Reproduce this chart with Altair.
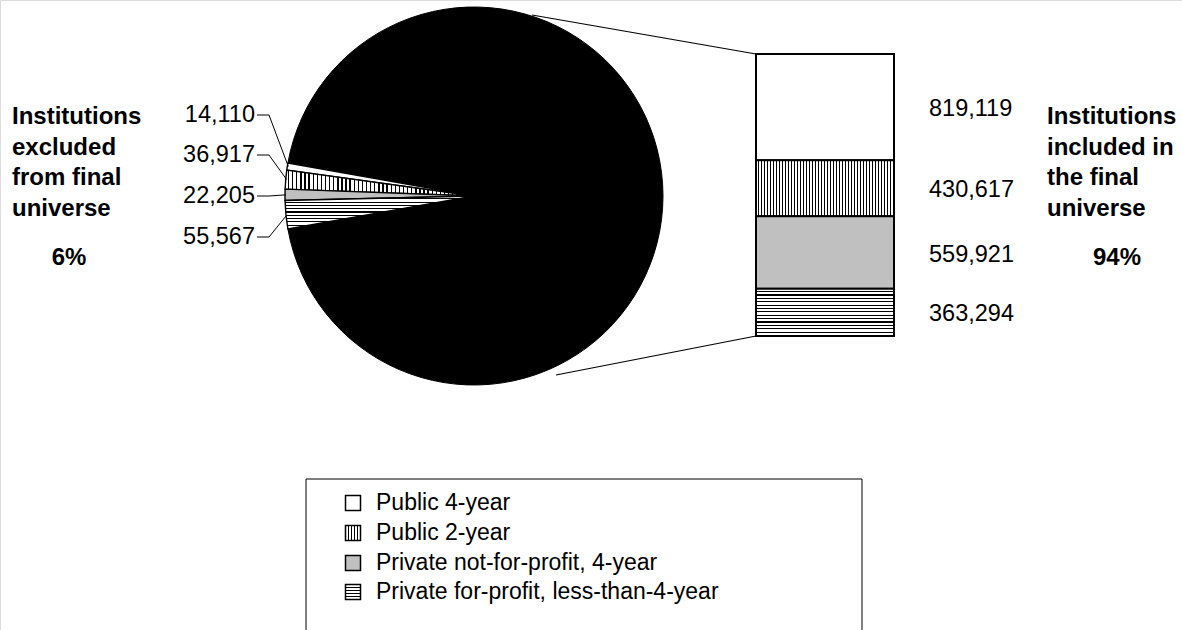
import math
import altair as alt
import pandas as pd

# ---------------- data ----------------
categories = [
    "Public 4-year",
    "Public 2-year",
    "Private not-for-profit, 4-year",
    "Private for-profit, less-than-4-year",
]
excluded_values = [14110, 36917, 22205, 55567]
included_values = [819119, 430617, 559921, 363294]
excluded_title = ["Institutions", "excluded", "from final", "universe"]
included_title = ["Institutions", "included in", "the final", "universe"]
excluded_share = "6%"
included_share = "94%"

# ---------------- layout / style ----------------
W, H = 1182, 630
FONT = "Liberation Sans"
FS_LABEL = 23.5
FS_TITLE = 24
FS_LEGEND = 23
PIE_CX, PIE_CY, PIE_R = 474, 196, 189
BAR_X0, BAR_X1, BAR_TOP, BAR_BOTTOM = 756, 894, 54, 336
PIE_LABEL_X = 255
PIE_LABEL_Y = [115, 155, 196, 237]
ELBOW_X = 269
BAR_LABEL_X = 929
TITLE_Y0, TITLE_DY = 117, 30.5
LEG_X0, LEG_X1, LEG_Y0 = 306, 862, 479
LEG_ROWS = [503, 533, 563, 592]
LEG_SWATCH_X = 353
LEG_TEXT_X = 376

XP = alt.Scale(domain=[0, W], range=[0, W], nice=False, zero=False)
YP = alt.Scale(domain=[0, H], range=[0, H], nice=False, zero=False)


def stripes(n, vertical, frac=0.33):
    stops = []
    for i in range(n):
        a, b, c = i / n, (i + 1 - frac) / n, (i + 1) / n
        stops += [
            {"offset": a, "color": "white"},
            {"offset": b, "color": "white"},
            {"offset": b, "color": "black"},
            {"offset": c, "color": "black"},
        ]
    return alt.LinearGradient(
        gradient="linear", stops=stops,
        x1=0, y1=0, x2=(1 if vertical else 0), y2=(0 if vertical else 1),
    )


def fills(context):
    n_v = {"pie": 46, "bar": 46, "legend": 5}[context]
    n_h = {"pie": 10, "bar": 14, "legend": 5}[context]
    return ["white", stripes(n_v, True), "#c0c0c0", stripes(n_h, False)]


# ---------------- pie ----------------
excl_total = sum(excluded_values)
incl_total = sum(included_values)
total = excl_total + incl_total
a0 = 1.5 * math.pi - math.pi * excl_total / total

pie_order = [3, 2, 1, 0]
rows, acc = [], 0
for i in pie_order:
    rows.append({"cat": categories[i], "start": acc, "end": acc + excluded_values[i]})
    acc += excluded_values[i]
rows.append({"cat": "included", "start": acc, "end": acc + incl_total})
pie_df = pd.DataFrame(rows)
theta_scale = alt.Scale(domain=[0, total], range=[a0, a0 + 2 * math.pi])

layers = []
pie_base = alt.Chart(pie_df)
layers.append(
    pie_base.transform_filter(alt.datum.cat == "included")
    .mark_arc(x=PIE_CX, y=PIE_CY, outerRadius=PIE_R, fill="black", stroke="black")
    .encode(theta=alt.Theta("start:Q", scale=theta_scale), theta2="end:Q")
)
pf = fills("pie")
for i, c in enumerate(categories):
    layers.append(
        pie_base.transform_filter(alt.datum.cat == c)
        .mark_arc(x=PIE_CX, y=PIE_CY, outerRadius=PIE_R, fill=pf[i],
                  stroke="black", strokeWidth=1.4)
        .encode(theta=alt.Theta("start:Q", scale=theta_scale), theta2="end:Q")
    )

# leader lines & pie labels
lead_rows, lab_rows = [], []
for i, c in enumerate(categories):
    r = pie_df[pie_df.cat == c].iloc[0]
    mid = a0 + 2 * math.pi * ((r.start + r.end) / 2) / total
    ex = PIE_CX + PIE_R * math.sin(mid)
    ey = PIE_CY - PIE_R * math.cos(mid)
    ly = PIE_LABEL_Y[i]
    lead_rows += [
        {"cat": c, "o": 0, "x": PIE_LABEL_X + 2, "y": ly},
        {"cat": c, "o": 1, "x": ELBOW_X, "y": ly},
        {"cat": c, "o": 2, "x": ex + 1, "y": ey},
    ]
    lab_rows.append({"txt": f"{excluded_values[i]:,}", "y": ly})

layers.append(
    alt.Chart(pd.DataFrame(lead_rows)).mark_line(color="black", strokeWidth=1)
    .encode(x=alt.X("x:Q", scale=XP, axis=None), y=alt.Y("y:Q", scale=YP, axis=None),
            detail="cat:N", order="o:Q")
)
layers.append(
    alt.Chart(pd.DataFrame(lab_rows)).mark_text(align="right", baseline="middle",
                                              font=FONT, fontSize=FS_LABEL, color="black")
    .encode(x=alt.value(PIE_LABEL_X), y=alt.Y("y:Q", scale=YP, axis=None), text="txt:N")
)

# connector lines pie -> bar
layers.append(
    alt.Chart(pd.DataFrame({"k": [0]})).mark_rule(color="black", strokeWidth=1.2)
    .encode(x=alt.value(532), y=alt.value(15), x2=alt.value(BAR_X0), y2=alt.value(BAR_TOP))
)
layers.append(
    alt.Chart(pd.DataFrame({"k": [0]})).mark_rule(color="black", strokeWidth=1.2)
    .encode(x=alt.value(556), y=alt.value(375), x2=alt.value(BAR_X0), y2=alt.value(BAR_BOTTOM))
)

# ---------------- bar ----------------
bar_rows, acc = [], 0
for i, c in enumerate(categories):
    bar_rows.append({"cat": c, "start": acc, "end": acc + included_values[i],
                     "mid": acc + included_values[i] / 2, "txt": f"{included_values[i]:,}"})
    acc += included_values[i]
bar_df = pd.DataFrame(bar_rows)
bar_y = alt.Scale(domain=[0, incl_total], range=[BAR_TOP, BAR_BOTTOM], nice=False, zero=False)
bf = fills("bar")
for i, c in enumerate(categories):
    layers.append(
        alt.Chart(bar_df).transform_filter(alt.datum.cat == c)
        .mark_rect(fill=bf[i], stroke="black", strokeWidth=2)
        .encode(x=alt.value(BAR_X0), x2=alt.value(BAR_X1),
                y=alt.Y("start:Q", scale=bar_y, axis=None), y2="end:Q")
    )
layers.append(
    alt.Chart(bar_df).mark_text(align="left", baseline="middle", font=FONT,
                                fontSize=FS_LABEL, color="black", dy=2)
    .encode(x=alt.value(BAR_LABEL_X), y=alt.Y("mid:Q", scale=bar_y, axis=None), text="txt:N")
)

# ---------------- side titles ----------------
title_rows = []
for k, t in enumerate(excluded_title):
    title_rows.append({"txt": t, "x": 12, "y": TITLE_Y0 + TITLE_DY * k})
for k, t in enumerate(included_title):
    title_rows.append({"txt": t, "x": 1047, "y": TITLE_Y0 + TITLE_DY * k})
tdf = pd.DataFrame(title_rows)
layers.append(
    alt.Chart(tdf).mark_text(align="left", baseline="middle", font=FONT, fontSize=FS_TITLE,
                             fontWeight="bold", color="black")
    .encode(x=alt.X("x:Q", scale=XP, axis=None), y=alt.Y("y:Q", scale=YP, axis=None), text="txt:N")
)
sdf = pd.DataFrame({"txt": [excluded_share, included_share], "x": [69, 1117], "y": [258, 258]})
layers.append(
    alt.Chart(sdf).mark_text(align="center", baseline="middle", font=FONT, fontSize=FS_TITLE,
                             fontWeight="bold", color="black")
    .encode(x=alt.X("x:Q", scale=XP, axis=None), y=alt.Y("y:Q", scale=YP, axis=None), text="txt:N")
)

# ---------------- legend ----------------
layers.append(
    alt.Chart(pd.DataFrame({"k": [0]})).mark_rect(fill="white", stroke="black", strokeWidth=1)
    .encode(x=alt.value(LEG_X0), x2=alt.value(LEG_X1), y=alt.value(LEG_Y0), y2=alt.value(H + 10))
)
leg_df = pd.DataFrame({"cat": categories, "y": LEG_ROWS})
lf = fills("legend")
for i, c in enumerate(categories):
    layers.append(
        alt.Chart(leg_df).transform_filter(alt.datum.cat == c)
        .mark_square(size=225, fill=lf[i], stroke="black", strokeWidth=1.5, opacity=1)
        .encode(x=alt.value(LEG_SWATCH_X), y=alt.Y("y:Q", scale=YP, axis=None))
    )
layers.append(
    alt.Chart(leg_df).mark_text(align="left", baseline="middle", font=FONT, fontSize=FS_LEGEND,
                                color="black")
    .encode(x=alt.value(LEG_TEXT_X), y=alt.Y("y:Q", scale=YP, axis=None), text="cat:N")
)

chart = (
    alt.layer(*layers)
    .resolve_scale(x="independent", y="independent")
    .properties(width=W, height=H, padding=0, autosize=alt.AutoSizeParams(type="none"))
    .configure_view(stroke=None)
    .configure(background="white")
)
chart.save("out.html", embed_options={"renderer": "svg", "actions": False})
